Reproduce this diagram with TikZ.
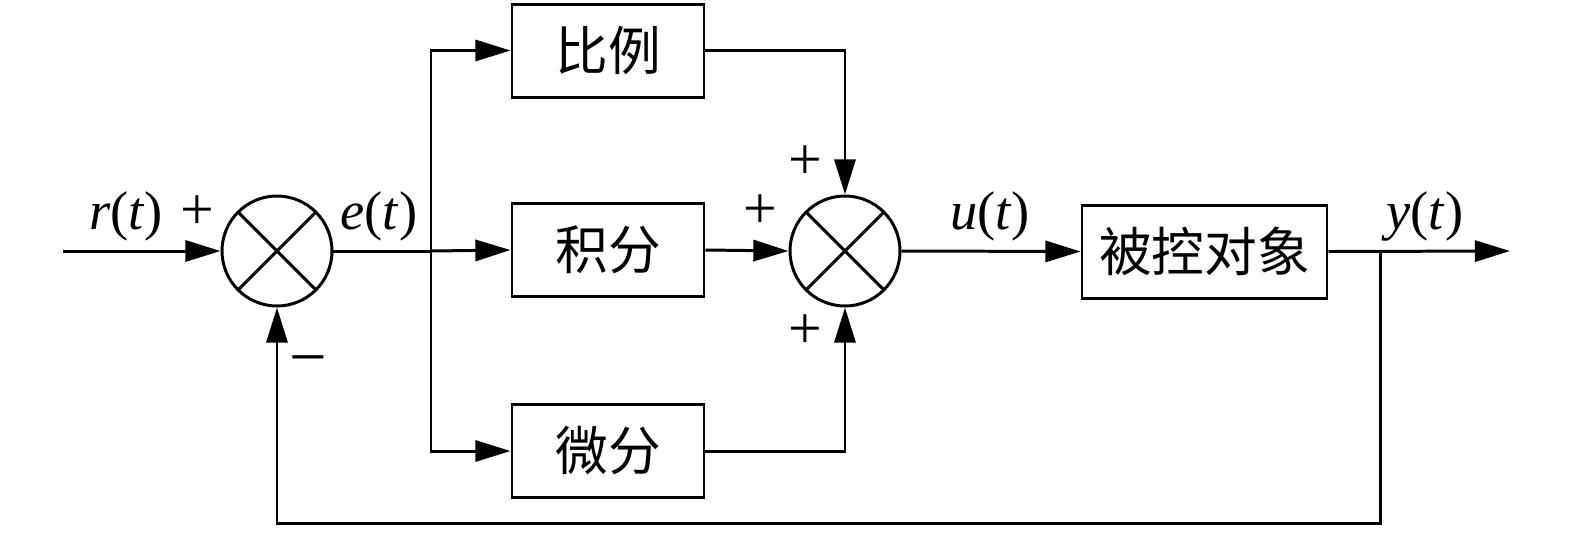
\documentclass[tikz,border=0pt]{standalone}
\usepackage{fontspec}
\setmainfont{Liberation Serif}
\newfontfamily\cjk{Noto Sans CJK SC}
\usetikzlibrary{arrows.meta}
\begin{document}
\begin{tikzpicture}[
  line width=0.85pt,
  arr/.style={-{Triangle[length=10pt,width=6pt]}},
  sumnode/.style={circle,draw,minimum size=1.1cm,inner sep=0pt,
    path picture={\draw[line width=0.85pt] (path picture bounding box.north west)--(path picture bounding box.south east)
      (path picture bounding box.north east)--(path picture bounding box.south west);}},
  blk/.style={draw,minimum width=1.92cm,minimum height=0.93cm,inner sep=0pt,font=\cjk\fontsize{15}{18}\selectfont},
  lab/.style={font=\fontsize{15.5}{18}\selectfont,inner sep=0pt},
  sgn/.style={font=\fontsize{17}{20}\selectfont,inner sep=0pt}
]
\useasboundingbox (0,0) rectangle (15.75,-5.33);
\node[sumnode] (s1) at (2.77,-2.51) {};
\node[sumnode] (s2) at (8.45,-2.51) {};
\node[blk] (P) at (6.08,-0.505) {比例};
\node[blk] (I) at (6.08,-2.50) {积分};
\node[blk] (D) at (6.08,-4.51) {微分};
\node[blk,minimum width=2.45cm] (G) at (12.045,-2.515) {被控对象};
\coordinate (in) at (0.63,-2.51);
\coordinate (br) at (4.31,-2.51);
\coordinate (tap) at (13.80,-2.51);
\coordinate (out) at (15.10,-2.51);
\coordinate (fb) at (13.80,-5.23);

\draw[arr] (in) -- (s1.west);
\draw (s1.east) -- (br);
\draw[arr] (br) -- (I.west);
\draw[arr] (br) |- (P.west);
\draw[arr] (br) |- (D.west);
\draw[arr] (P.east) -| (s2.north);
\draw[arr] (I.east) -- (s2.west);
\draw[arr] (D.east) -| (s2.south);
\draw[arr] (s2.east) -- (G.west);
\draw[arr] (G.east) -- (out);
\draw[arr] (tap) -- (fb) -| (s1.south);

\node[lab] at (1.26,-2.16) {\textit{r}(\textit{t})};
\node[sgn] at (1.97,-2.13) {+};
\node[lab] at (3.79,-2.16) {\textit{e}(\textit{t})};
\node[sgn,font=\fontsize{19}{20}\selectfont] at (3.08,-3.68) {\textminus};
\node[sgn] at (8.05,-1.63) {+};
\node[sgn] at (7.60,-2.12) {+};
\node[sgn] at (8.05,-3.32) {+};
\node[lab] at (9.90,-2.16) {\textit{u}(\textit{t})};
\node[lab] at (14.25,-2.16) {\textit{y}(\textit{t})};
\end{tikzpicture}
\end{document}
